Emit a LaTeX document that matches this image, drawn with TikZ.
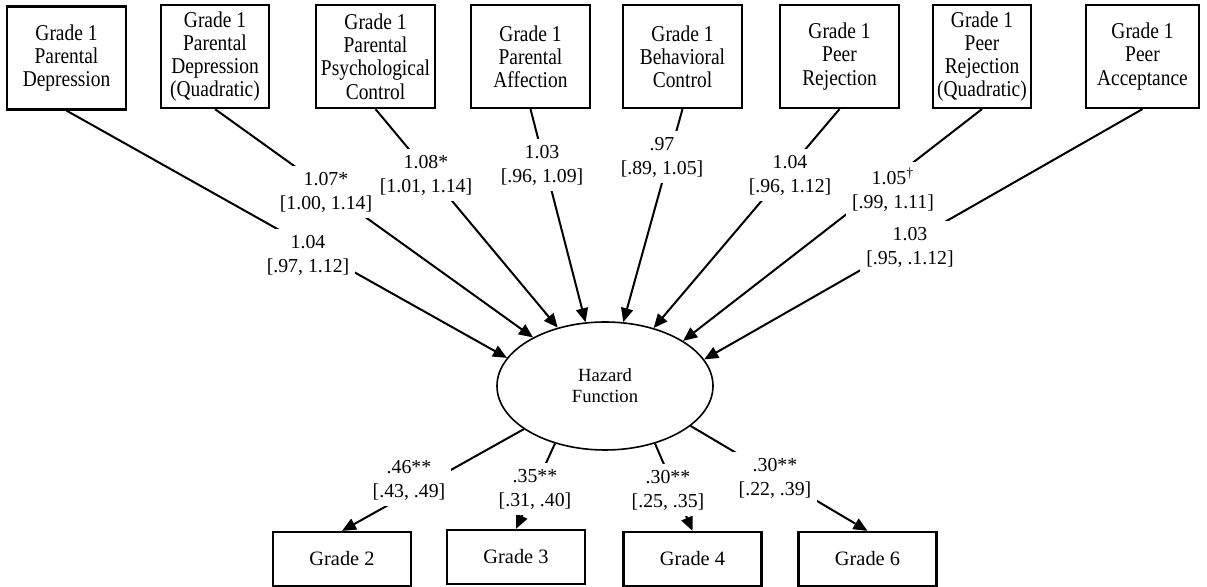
\documentclass[tikz,border=0pt]{standalone}
\usepackage{fontspec}
\setmainfont{Liberation Serif}
\newfontfamily\boxfont{Liberation Serif}[FakeStretch=0.86]
\usetikzlibrary{arrows.meta,shapes.geometric}

\begin{document}
\begin{tikzpicture}[x=0.5pt, y=-0.5pt,
  block/.style={draw, line width=1.1pt, align=center, inner sep=2pt, minimum width=59.5pt, minimum height=51.5pt, font=\boxfont\fontsize{11.3}{11.6}\selectfont},
  outcome/.style={draw, line width=1.1pt, minimum width=69pt, minimum height=27pt, font=\fontsize{10.2}{11}\selectfont},
  latent/.style={draw, ellipse, line width=0.8pt, align=center, minimum width=108pt, minimum height=64pt, inner sep=0pt, font=\fontsize{9.3}{10.5}\selectfont},
  coef/.style={fill=white, align=center, inner sep=3pt, font=\fontsize{9.9}{12}\selectfont},
  arrow/.style={-{Triangle[length=7pt,width=6pt]}, line width=1pt}
]
\useasboundingbox (0,0) rectangle (1207,587);

% Grade 1 predictors
\node[block] (pdep) at (66.5,58) {Grade 1\\Parental\\Depression};
\node[block, minimum width=54pt] (pdepq) at (215,56.5) {Grade 1\\Parental\\Depression\\(Quadratic)};
\node[block] (ppc) at (375.5,56.5) {Grade 1\\Parental\\Psychological\\Control};
\node[block] (paff) at (530.5,56.5) {Grade 1\\Parental\\Affection};
\node[block] (bctl) at (682.5,56.5) {Grade 1\\Behavioral\\Control};
\node[block] (prej) at (839.5,56.5) {Grade 1\\Peer\\Rejection};
\node[block, minimum width=49pt] (prejq) at (982,56.5) {Grade 1\\Peer\\Rejection\\(Quadratic)};
\node[block, minimum width=56.5pt] (pacc) at (1142.5,56.5) {Grade 1\\Peer\\Acceptance};

% latent hazard
\node[latent] (hazard) at (605,386) {Hazard\\Function};

% outcomes
\node[outcome] (g2) at (342,559) {Grade 2};
\node[outcome] (g3) at (516,557) {Grade 3};
\node[outcome] (g4) at (692.5,559) {Grade 4};
\node[outcome] (g6) at (867.5,559) {Grade 6};

\draw[arrow] (pdep.south) -- (hazard.164);
\draw[arrow] (pdepq.south) -- (hazard.146);
\draw[arrow] (ppc.south) -- (hazard.129);
\draw[arrow] (paff.south) -- (hazard.107);
\draw[arrow] (bctl.south) -- (hazard.74);
\draw[arrow] (prej.south) -- (hazard.50);
\draw[arrow] (prejq.south) -- (hazard.30);
\draw[arrow] (pacc.south) -- (hazard.15);

\draw[arrow] (hazard.208) -- (g2.north);
\draw[arrow] (hazard.229) -- (g3.north);
\draw[arrow] (hazard.311) -- (g4.north);
\draw[arrow] (hazard.335) -- (g6.north);

% odds ratios
\node[coef] (c1) at (308,255) {1.04\\{}[.97, 1.12]};
\node[coef] (c2) at (326,192) {1.07*\\{}[1.00, 1.14]};
\node[coef] (c3) at (426,175) {1.08*\\{}[1.01, 1.14]};
\node[coef] (c4) at (542,165) {1.03\\{}[.96, 1.09]};
\node[coef] (c5) at (662,157) {.97\\{}[.89, 1.05]};
\node[coef] (c6) at (790,175) {1.04\\{}[.96, 1.12]};
\node[coef] (c7) at (893,190) {1.05\textsuperscript{\textdagger}\\{}[.99, 1.11]};
\node[coef] (c8) at (910,247) {1.03\\{}[.95, .1.12]};

% loadings
\node[coef] (l2) at (409,480) {.46**\\{}[.43, .49]};
\node[coef] (l3) at (535,489) {.35**\\{}[.31, .40]};
\node[coef] (l4) at (668,490) {.30**\\{}[.25, .35]};
\node[coef] (l6) at (775,478) {.30**\\{}[.22, .39]};
\end{tikzpicture}
\end{document}
